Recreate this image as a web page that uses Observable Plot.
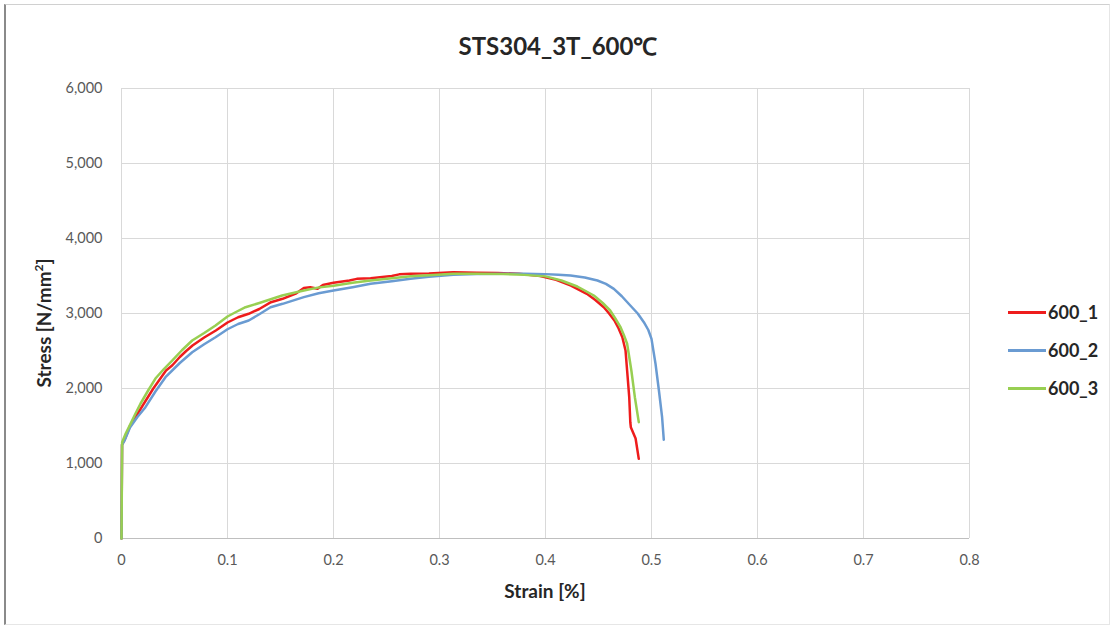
<!DOCTYPE html>
<html>
<head>
<meta charset="utf-8">
<script src="https://cdn.jsdelivr.net/npm/d3@7"></script>
<script src="https://cdn.jsdelivr.net/npm/@observablehq/plot@0.6"></script>
<style>
  html, body { margin: 0; padding: 0; background: #fff; }
  #wrap { position: relative; width: 1116px; height: 628px; overflow: hidden; font-family: Lato, "Open Sans", sans-serif; }
  #frame { position: absolute; left: 4px; top: 4px; width: 1106px; height: 621px; border-left: 2px solid #8a8a8a; border-top: 1px solid #d0d0d0; border-right: 1px solid #e6e6e6; border-bottom: 1px solid #e6e6e6; box-sizing: border-box; }
  #chart { position: absolute; left: 0; top: 0; }
  .title { position: absolute; left: 0; width: 1116px; top: 29px; text-align: center; font-weight: 700; font-size: 24px; color: #262626; }
  .xlabel { position: absolute; left: 121px; width: 848px; top: 579px; text-align: center; font-weight: 700; font-size: 19px; color: #262626; }
  .ylabel { position: absolute; left: 43px; top: 323px; transform: translate(-50%, -50%) rotate(-90deg); white-space: nowrap; font-weight: 700; font-size: 19px; color: #262626; }
  .ylabel sup { font-size: 12px; }
  .legend { position: absolute; left: 1008px; top: 0; }
  .legend .item { position: absolute; left: 0; white-space: nowrap; font-weight: 700; font-size: 18px; color: #262626; display: flex; align-items: center; }
  .legend .sw { width: 38px; height: 3px; margin-right: 2px; }
</style>
</head>
<body>
<div id="wrap">
  <div id="frame"></div>
  <div id="chart"></div>
  <div class="title">STS304_3T_600℃</div>
  <div class="ylabel">Stress [N/mm<sup>2</sup>]</div>
  <div class="xlabel">Strain [%]</div>
  <div class="legend" id="legend"></div>
</div>
<script>
// ---- Data ----
const seriesNames = ["600_1", "600_2", "600_3"];
const seriesColors = ["#ee1c1c", "#6a9bd2", "#98cf52"];

const strain1 = [0, 0.0005, 0.003, 0.008, 0.015, 0.02, 0.03, 0.042, 0.048, 0.055, 0.061, 0.067, 0.078, 0.089, 0.1, 0.11, 0.12, 0.13, 0.141, 0.152, 0.165, 0.172, 0.178, 0.185, 0.19, 0.2, 0.215, 0.222, 0.235, 0.255, 0.262, 0.273, 0.29, 0.313, 0.335, 0.355, 0.375, 0.395, 0.41, 0.424, 0.439, 0.447, 0.455, 0.46, 0.465, 0.469, 0.4725, 0.4755, 0.477, 0.479, 0.480, 0.4805, 0.485, 0.488];
const stress1 = [0, 1250, 1320, 1500, 1660, 1773, 2000, 2240, 2310, 2420, 2500, 2573, 2680, 2773, 2880, 2950, 2996, 3060, 3151, 3196, 3270, 3340, 3351, 3330, 3380, 3409, 3440, 3462, 3471, 3500, 3522, 3529, 3535, 3551, 3545, 3540, 3530, 3500, 3450, 3373, 3262, 3180, 3084, 3000, 2907, 2800, 2684, 2507, 2240, 1884, 1550, 1484, 1333, 1062];

const strain2 = [0, 0.0005, 0.003, 0.008, 0.015, 0.0226, 0.032, 0.0415, 0.055, 0.0667, 0.078, 0.0887, 0.1, 0.11, 0.12, 0.13, 0.1406, 0.152, 0.172, 0.186, 0.2, 0.218, 0.235, 0.255, 0.2726, 0.29, 0.313, 0.335, 0.36, 0.38, 0.4, 0.412, 0.4236, 0.437, 0.449, 0.457, 0.4645, 0.472, 0.480, 0.487, 0.4928, 0.497, 0.500, 0.5038, 0.507, 0.510, 0.5116];
const stress2 = [0, 1250, 1310, 1480, 1620, 1751, 1960, 2151, 2340, 2484, 2590, 2684, 2790, 2860, 2907, 2990, 3084, 3129, 3218, 3270, 3307, 3350, 3396, 3430, 3462, 3490, 3516, 3525, 3530, 3530, 3525, 3518, 3507, 3480, 3440, 3395, 3329, 3230, 3107, 3000, 2884, 2780, 2662, 2329, 1973, 1617, 1316];

const strain3 = [0, 0.0006, 0.004, 0.0085, 0.013, 0.018, 0.025, 0.032, 0.04, 0.0478, 0.057, 0.0667, 0.078, 0.0887, 0.1, 0.108, 0.117, 0.13, 0.1516, 0.17, 0.185, 0.2, 0.218, 0.235, 0.255, 0.2726, 0.29, 0.313, 0.335, 0.36, 0.38, 0.4, 0.415, 0.43, 0.4456, 0.454, 0.461, 0.466, 0.4708, 0.474, 0.477, 0.479, 0.481, 0.4843, 0.488];
const stress3 = [0, 1284, 1400, 1529, 1660, 1800, 1970, 2133, 2260, 2373, 2510, 2640, 2740, 2840, 2960, 3020, 3084, 3140, 3240, 3300, 3345, 3370, 3410, 3440, 3470, 3497, 3510, 3529, 3530, 3525, 3515, 3495, 3440, 3360, 3240, 3140, 3040, 2930, 2817, 2710, 2596, 2420, 2240, 1884, 1551];

const xTicks = [0, 0.1, 0.2, 0.3, 0.4, 0.5, 0.6, 0.7, 0.8];
const yTicks = [0, 1000, 2000, 3000, 4000, 5000, 6000];

// ---- Build table ----
const strains = [strain1, strain2, strain3];
const stresses = [stress1, stress2, stress3];
const rows = [];
seriesNames.forEach((name, i) => {
  strains[i].forEach((s, j) => rows.push({ series: name, strain: s, stress: stresses[i][j] }));
});

const tickFont = { fontSize: 14.5, fill: "#595959" };

const chart = Plot.plot({
  width: 1116,
  height: 628,
  marginLeft: 121,
  marginRight: 147,
  marginTop: 88,
  marginBottom: 90,
  style: { fontFamily: "Lato, 'Open Sans', sans-serif", background: "transparent", overflow: "visible" },
  x: { domain: [0, 0.8], label: null },
  y: { domain: [0, 6000], label: null },
  color: { domain: seriesNames, range: seriesColors },
  marks: [
    Plot.gridX(xTicks, { stroke: "#d9d9d9", strokeOpacity: 1, strokeWidth: 1 }),
    Plot.gridY(yTicks, { stroke: "#d9d9d9", strokeOpacity: 1, strokeWidth: 1 }),
    Plot.ruleY([0], { stroke: "#bfbfbf", strokeWidth: 1 }),
    Plot.axisX(xTicks, { tickSize: 0, tickPadding: 16, tickFormat: d => d === 0 ? "0" : d3.format(".1f")(d), ...tickFont }),
    Plot.axisY(yTicks, { tickSize: 0, tickPadding: 19, tickFormat: d3.format(","), ...tickFont }),
    Plot.line(rows, { x: "strain", y: "stress", z: "series", stroke: "series", strokeWidth: 2.5, curve: "linear" })
  ]
});
document.getElementById("chart").appendChild(chart);

// ---- Legend ----
const legend = document.getElementById("legend");
const legendTops = [301, 339, 377];
seriesNames.forEach((name, i) => {
  const item = document.createElement("div");
  item.className = "item";
  item.style.top = legendTops[i] + "px";
  const sw = document.createElement("span");
  sw.className = "sw";
  sw.style.background = seriesColors[i];
  const tx = document.createElement("span");
  tx.textContent = name;
  item.appendChild(sw);
  item.appendChild(tx);
  legend.appendChild(item);
});
</script>
</body>
</html>
